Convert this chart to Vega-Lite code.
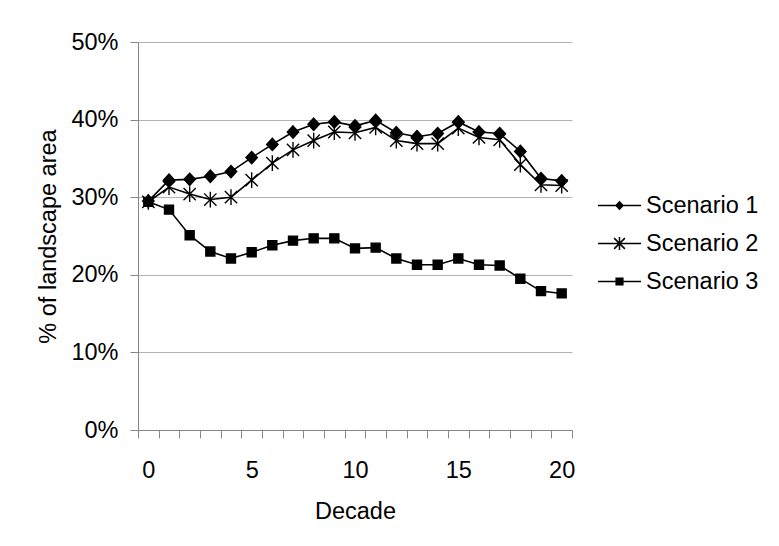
{
  "$schema": "https://vega.github.io/schema/vega-lite/v6.json",
  "width": 434,
  "height": 388,
  "autosize": {"type": "none"},
  "padding": {"left": 138, "top": 42, "right": 207, "bottom": 116},
  "background": "white",
  "config": {
    "view": {"stroke": null},
    "font": "Liberation Sans",
    "axis": {"labelFont": "Liberation Sans", "titleFont": "Liberation Sans", "labelColor": "#000", "titleColor": "#000", "titleFontWeight": "normal"},
    "legend": {"labelFont": "Liberation Sans", "labelColor": "#000"}
  },
  "data": {
    "values": [
      {"decade": 0, "scenario": "Scenario 1", "value": 0.295},
      {"decade": 1, "scenario": "Scenario 1", "value": 0.322},
      {"decade": 2, "scenario": "Scenario 1", "value": 0.323},
      {"decade": 3, "scenario": "Scenario 1", "value": 0.327},
      {"decade": 4, "scenario": "Scenario 1", "value": 0.333},
      {"decade": 5, "scenario": "Scenario 1", "value": 0.351},
      {"decade": 6, "scenario": "Scenario 1", "value": 0.368},
      {"decade": 7, "scenario": "Scenario 1", "value": 0.384},
      {"decade": 8, "scenario": "Scenario 1", "value": 0.394},
      {"decade": 9, "scenario": "Scenario 1", "value": 0.397},
      {"decade": 10, "scenario": "Scenario 1", "value": 0.392},
      {"decade": 11, "scenario": "Scenario 1", "value": 0.399},
      {"decade": 12, "scenario": "Scenario 1", "value": 0.383},
      {"decade": 13, "scenario": "Scenario 1", "value": 0.378},
      {"decade": 14, "scenario": "Scenario 1", "value": 0.382},
      {"decade": 15, "scenario": "Scenario 1", "value": 0.397},
      {"decade": 16, "scenario": "Scenario 1", "value": 0.384},
      {"decade": 17, "scenario": "Scenario 1", "value": 0.382},
      {"decade": 18, "scenario": "Scenario 1", "value": 0.359},
      {"decade": 19, "scenario": "Scenario 1", "value": 0.324},
      {"decade": 20, "scenario": "Scenario 1", "value": 0.321},
      {"decade": 0, "scenario": "Scenario 2", "value": 0.294},
      {"decade": 1, "scenario": "Scenario 2", "value": 0.313},
      {"decade": 2, "scenario": "Scenario 2", "value": 0.304},
      {"decade": 3, "scenario": "Scenario 2", "value": 0.297},
      {"decade": 4, "scenario": "Scenario 2", "value": 0.300},
      {"decade": 5, "scenario": "Scenario 2", "value": 0.322},
      {"decade": 6, "scenario": "Scenario 2", "value": 0.344},
      {"decade": 7, "scenario": "Scenario 2", "value": 0.361},
      {"decade": 8, "scenario": "Scenario 2", "value": 0.373},
      {"decade": 9, "scenario": "Scenario 2", "value": 0.384},
      {"decade": 10, "scenario": "Scenario 2", "value": 0.383},
      {"decade": 11, "scenario": "Scenario 2", "value": 0.390},
      {"decade": 12, "scenario": "Scenario 2", "value": 0.373},
      {"decade": 13, "scenario": "Scenario 2", "value": 0.369},
      {"decade": 14, "scenario": "Scenario 2", "value": 0.369},
      {"decade": 15, "scenario": "Scenario 2", "value": 0.389},
      {"decade": 16, "scenario": "Scenario 2", "value": 0.377},
      {"decade": 17, "scenario": "Scenario 2", "value": 0.374},
      {"decade": 18, "scenario": "Scenario 2", "value": 0.342},
      {"decade": 19, "scenario": "Scenario 2", "value": 0.316},
      {"decade": 20, "scenario": "Scenario 2", "value": 0.315},
      {"decade": 0, "scenario": "Scenario 3", "value": 0.294},
      {"decade": 1, "scenario": "Scenario 3", "value": 0.284},
      {"decade": 2, "scenario": "Scenario 3", "value": 0.251},
      {"decade": 3, "scenario": "Scenario 3", "value": 0.230},
      {"decade": 4, "scenario": "Scenario 3", "value": 0.221},
      {"decade": 5, "scenario": "Scenario 3", "value": 0.229},
      {"decade": 6, "scenario": "Scenario 3", "value": 0.238},
      {"decade": 7, "scenario": "Scenario 3", "value": 0.244},
      {"decade": 8, "scenario": "Scenario 3", "value": 0.247},
      {"decade": 9, "scenario": "Scenario 3", "value": 0.247},
      {"decade": 10, "scenario": "Scenario 3", "value": 0.234},
      {"decade": 11, "scenario": "Scenario 3", "value": 0.235},
      {"decade": 12, "scenario": "Scenario 3", "value": 0.221},
      {"decade": 13, "scenario": "Scenario 3", "value": 0.213},
      {"decade": 14, "scenario": "Scenario 3", "value": 0.213},
      {"decade": 15, "scenario": "Scenario 3", "value": 0.221},
      {"decade": 16, "scenario": "Scenario 3", "value": 0.213},
      {"decade": 17, "scenario": "Scenario 3", "value": 0.212},
      {"decade": 18, "scenario": "Scenario 3", "value": 0.195},
      {"decade": 19, "scenario": "Scenario 3", "value": 0.179},
      {"decade": 20, "scenario": "Scenario 3", "value": 0.176}
    ]
  },
  "encoding": {
    "x": {
      "field": "decade",
      "type": "quantitative",
      "scale": {"domain": [-0.5, 20.5], "nice": false, "zero": false},
      "axis": {
        "title": "Decade",
        "titleFontSize": 23.5,
        "titlePadding": 18,
        "labelFontSize": 23.5,
        "labelPadding": 20,
        "labelOverlap": false,
        "labelFlush": false,
        "grid": false,
        "domainColor": "#868686",
        "tickColor": "#868686",
        "tickSize": 8,
        "tickOpacity": {"condition": {"test": "datum.value % 1 === 0", "value": 0}, "value": 1},
        "labelExpr": "datum.value % 1 === 0 ? datum.label : ''",
        "values": [-0.5, 0, 0.5, 1.5, 2.5, 3.5, 4.5, 5, 5.5, 6.5, 7.5, 8.5, 9.5, 10, 10.5, 11.5, 12.5, 13.5, 14.5, 15, 15.5, 16.5, 17.5, 18.5, 19.5, 20, 20.5]
      }
    },
    "y": {
      "field": "value",
      "type": "quantitative",
      "scale": {"domain": [0, 0.5], "nice": false},
      "axis": {
        "title": "% of landscape area",
        "titleFontSize": 23.5,
        "titlePadding": 10,
        "labelFontSize": 23.5,
        "labelPadding": 12,
        "format": ".0%",
        "values": [0, 0.1, 0.2, 0.3, 0.4, 0.5],
        "grid": true,
        "gridColor": "#b3b3b3",
        "domainColor": "#868686",
        "tickColor": "#868686",
        "tickSize": 8
      }
    }
  },
  "layer": [
    {
      "mark": {"type": "line", "color": "black", "strokeWidth": 1.6},
      "encoding": {"detail": {"field": "scenario"}}
    },
    {
      "mark": {"type": "point", "filled": true, "fill": "black", "stroke": "black", "strokeWidth": 1.4, "opacity": 1, "size": 225},
      "encoding": {
        "shape": {
          "field": "scenario",
          "type": "nominal",
          "scale": {
            "domain": ["Scenario 1", "Scenario 2", "Scenario 3"],
            "range": ["M0,-0.82L0.76,0L0,0.82L-0.76,0Z", "M0,-1.05L0,1.05M-0.82,-0.82L0.82,0.82M-0.82,0.82L0.82,-0.82", "M-0.6,-0.6L0.6,-0.6L0.6,0.6L-0.6,0.6Z"]
          },
          "legend": null
        }
      }
    },
    {
      "mark": {"type": "point", "filled": true, "color": "black", "opacity": 0, "size": 10},
      "encoding": {
        "shape": {
          "field": "scenario",
          "type": "nominal",
          "scale": {
            "domain": ["Scenario 1", "Scenario 2", "Scenario 3"],
            "range": [
              "M-1,-0.037L1,-0.037L1,0.037L-1,0.037ZM0,-0.22L0.21,0L0,0.22L-0.21,0Z",
              "M-1,-0.037L1,-0.037L1,0.037L-1,0.037ZM-0.035,-0.3L0.035,-0.3L0.035,0.3L-0.035,0.3ZM-0.225,-0.275L0.275,0.225L0.225,0.275L-0.275,-0.225ZM-0.275,0.225L0.225,-0.275L0.275,-0.225L-0.225,0.275Z",
              "M-1,-0.037L1,-0.037L1,0.037L-1,0.037ZM-0.19,-0.19L0.19,-0.19L0.19,0.19L-0.19,0.19Z"
            ]
          },
          "legend": {
            "title": null,
            "orient": "none",
            "legendX": 460,
            "legendY": 142,
            "padding": 0,
            "symbolSize": 1849,
            "symbolOpacity": 1,
            "symbolStrokeWidth": 0,
            "symbolFillColor": "black",
            "labelFontSize": 23.5,
            "labelOffset": 5,
            "rowPadding": 5
          }
        }
      }
    }
  ],
  "resolve": {"scale": {"shape": "independent"}}
}
